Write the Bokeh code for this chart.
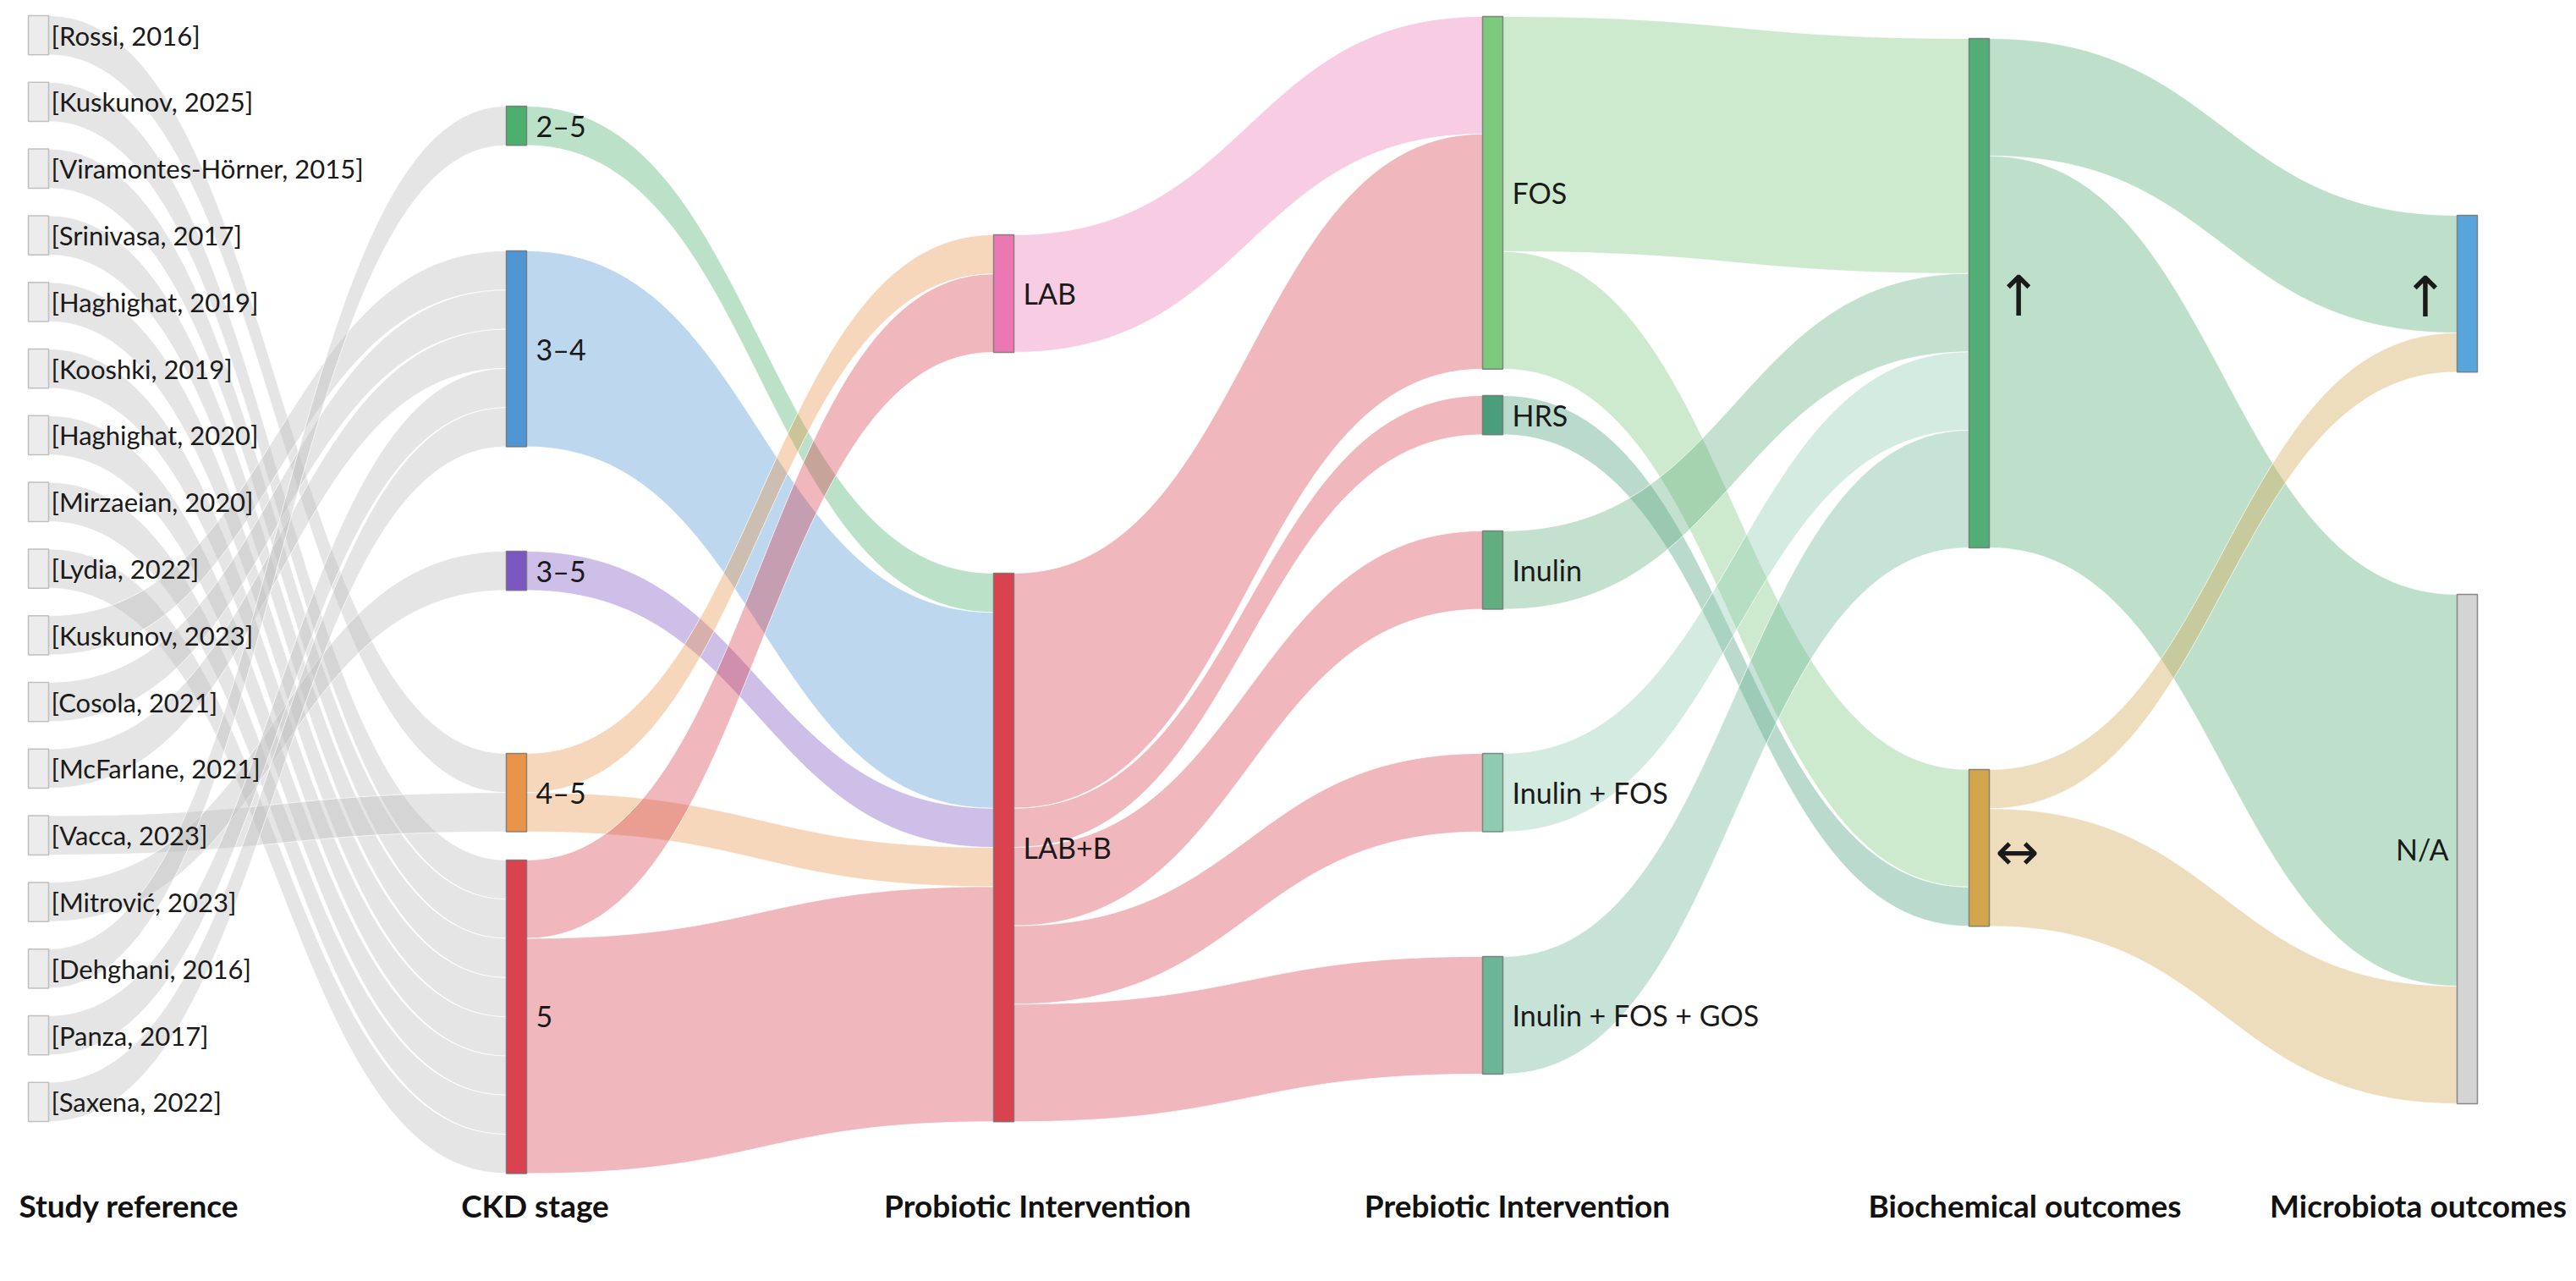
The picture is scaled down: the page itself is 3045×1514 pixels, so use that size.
import numpy as np
from bokeh.plotting import figure
from bokeh.models import Range1d, ColumnDataSource
from bokeh.core.properties import value
from bokeh.embed import file_html
from bokeh.resources import INLINE

# ---------------- DATA ----------------
studies = ["[Rossi, 2016]", "[Kuskunov, 2025]", "[Viramontes-Hörner, 2015]",
           "[Srinivasa, 2017]", "[Haghighat, 2019]", "[Kooshki, 2019]",
           "[Haghighat, 2020]", "[Mirzaeian, 2020]", "[Lydia, 2022]",
           "[Kuskunov, 2023]", "[Cosola, 2021]", "[McFarlane, 2021]",
           "[Vacca, 2023]", "[Mitrović, 2023]", "[Dehghani, 2016]",
           "[Panza,  2017]", "[Saxena, 2022]"]
study_stage = ["4–5", "5", "5", "5", "5", "5", "5", "5", "5",
               "3–4", "3–4", "3–4", "4–5", "3–5", "2–5", "3–4", "3–4"]

ckd_stages = ["2–5", "3–4", "3–5", "4–5", "5"]
probiotics = ["LAB", "LAB+B"]
prebiotics = ["FOS", "HRS", "Inulin", "Inulin + FOS", "Inulin + FOS + GOS"]
biochemical = ["↑", "↔"]
microbiota = ["↑", "N/A"]

stage_pro_src = ["2–5", "3–4", "3–5", "4–5", "4–5", "5", "5"]
stage_pro_tgt = ["LAB+B", "LAB+B", "LAB+B", "LAB", "LAB+B", "LAB", "LAB+B"]
stage_pro_val = [1, 5, 1, 1, 1, 2, 6]

pro_pre_src = ["LAB", "LAB+B", "LAB+B", "LAB+B", "LAB+B", "LAB+B"]
pro_pre_tgt = ["FOS", "FOS", "HRS", "Inulin", "Inulin + FOS", "Inulin + FOS + GOS"]
pro_pre_val = [3, 6, 1, 2, 2, 3]

pre_bio_src = ["FOS", "FOS", "HRS", "Inulin", "Inulin + FOS", "Inulin + FOS + GOS"]
pre_bio_tgt = ["↑", "↔", "↔", "↑", "↑", "↑"]
pre_bio_val = [6, 3, 1, 2, 2, 3]

bio_mic_src = ["↑", "↑", "↔", "↔"]
bio_mic_tgt = ["↑", "N/A", "↑", "N/A"]
bio_mic_val = [3, 10, 1, 3]

column_titles = ["Study reference", "CKD stage", "Probiotic Intervention",
                 "Prebiotic Intervention", "Biochemical outcomes", "Microbiota outcomes"]

# ---------------- LAYOUT / STYLE ----------------
U = 46.3                      # pixels per study
NODE_W = 24
COL_X = [33, 598, 1174, 1752, 2327, 2904]
STUDY_TOP0, STUDY_STEP = 18, 78.8
NODE_TOP = {
    1: {"2–5": 125, "3–4": 296, "3–5": 651, "4–5": 890, "5": 1016},
    2: {"LAB": 277, "LAB+B": 677},
    3: {"FOS": 19, "HRS": 467, "Inulin": 627, "Inulin + FOS": 890, "Inulin + FOS + GOS": 1130},
    4: {"↑": 45, "↔": 909},
    5: {"↑": 254, "N/A": 702},
}
TITLE_X = [152, 632, 1226, 1793, 2393, 2858]
TITLE_Y = 1424

COLORS = {
    1: {"2–5": "#4caf6e", "3–4": "#4f96d2", "3–5": "#7b57c2", "4–5": "#e8954b", "5": "#d8434f"},
    2: {"LAB": "#ec78b3", "LAB+B": "#d8434f"},
    3: {"FOS": "#7dc97e", "HRS": "#4a9e7c", "Inulin": "#63ae80",
        "Inulin + FOS": "#8fcbb0", "Inulin + FOS + GOS": "#6cb596"},
    4: {"↑": "#53ad77", "↔": "#d3a64e"},
    5: {"↑": "#57a5da", "N/A": "#d4d4d4"},
}
STUDY_FILL, STUDY_LINE = "#ececec", "#b3b3b3"
GRAY_LINK = "#bdbdbd"
FONT = "Lato"
ARROW_FONT = "DejaVu Sans"

for i, s in enumerate(studies):
    NODE_TOP.setdefault(0, {})[s] = STUDY_TOP0 + STUDY_STEP * i
    COLORS.setdefault(0, {})[s] = STUDY_FILL

# ---------------- LINKS ----------------
links = []
for s, st in zip(studies, study_stage):
    links.append((0, s, 1, st, 1))
for col, (S, T, V) in enumerate([(stage_pro_src, stage_pro_tgt, stage_pro_val),
                                 (pro_pre_src, pro_pre_tgt, pro_pre_val),
                                 (pre_bio_src, pre_bio_tgt, pre_bio_val),
                                 (bio_mic_src, bio_mic_tgt, bio_mic_val)], start=1):
    for s, t, v in zip(S, T, V):
        links.append((col, s, col + 1, t, v))

node_in, node_out = {}, {}
for cs, s, ct, t, v in links:
    node_out[(cs, s)] = node_out.get((cs, s), 0) + v
    node_in[(ct, t)] = node_in.get((ct, t), 0) + v
nodes = []
for col, d in NODE_TOP.items():
    for name, top in d.items():
        val = max(node_in.get((col, name), 0), node_out.get((col, name), 0))
        nodes.append((col, name, top, val))

out_sorted = sorted(range(len(links)), key=lambda i: (links[i][0], links[i][1], NODE_TOP[links[i][2]][links[i][3]]))
in_sorted = sorted(range(len(links)), key=lambda i: (links[i][2], links[i][3], NODE_TOP[links[i][0]][links[i][1]]))
y_src, y_tgt = {}, {}
acc = {}
for i in out_sorted:
    cs, s, ct, t, v = links[i]
    base = acc.get((cs, s), NODE_TOP[cs][s])
    y_src[i] = base
    acc[(cs, s)] = base + v * U
acc = {}
for i in in_sorted:
    cs, s, ct, t, v = links[i]
    base = acc.get((ct, t), NODE_TOP[ct][t])
    y_tgt[i] = base
    acc[(ct, t)] = base + v * U


def bez(x0, y0, x1, y1, n=60):
    t = np.linspace(0, 1, n)
    xm = (x0 + x1) / 2
    x = (1 - t) ** 3 * x0 + 3 * (1 - t) ** 2 * t * xm + 3 * (1 - t) * t ** 2 * xm + t ** 3 * x1
    y = (1 - t) ** 3 * y0 + 3 * (1 - t) ** 2 * t * y0 + 3 * (1 - t) * t ** 2 * y1 + t ** 3 * y1
    return x, y


xs, ys, fc, fa = [], [], [], []
for i, (cs, s, ct, t, v) in enumerate(links):
    x0 = COL_X[cs] + NODE_W
    x1 = COL_X[ct]
    w = v * U
    tx, ty = bez(x0, y_src[i], x1, y_tgt[i])
    bx, by = bez(x0, y_src[i] + w, x1, y_tgt[i] + w)
    xs.append(list(tx) + list(bx[::-1]))
    ys.append(list(ty) + list(by[::-1]))
    if cs == 0:
        fc.append(GRAY_LINK); fa.append(0.40)
    else:
        fc.append(COLORS[cs][s]); fa.append(0.38)

# ---------------- FIGURE ----------------
W, H = 3040, 1510
p = figure(width=W, height=H, x_range=Range1d(0, W), y_range=Range1d(H, 0),
           output_backend="svg", toolbar_location=None, x_axis_type=None, y_axis_type=None,
           min_border=0, background_fill_color="white", border_fill_color="white")
p.outline_line_color = None

p.patches(xs="xs", ys="ys", fill_color="fc", fill_alpha="fa",
          line_color="white", line_width=1, line_alpha=0.7,
          source=ColumnDataSource(dict(xs=xs, ys=ys, fc=fc, fa=fa)))

nl, nr, nt, nb, ncol, nline = [], [], [], [], [], []
lab = dict(x=[], y=[], t=[], a=[], s=[], f=[])
for col, name, top, val in nodes:
    h = val * U
    nl.append(COL_X[col]); nr.append(COL_X[col] + NODE_W)
    nt.append(top); nb.append(top + h)
    ncol.append(COLORS[col][name])
    nline.append(STUDY_LINE if col == 0 else "#6f6f6f")
    cy = top + h / 2
    is_arrow = name in ("↑", "↔")
    if col == 0:
        x, a, s = COL_X[col] + NODE_W + 3, "left", "31px"
    elif col == 5:
        x, a = COL_X[col] - 10, "right"
        s = "66px" if is_arrow else "34px"
    elif col == 4:
        x, a = COL_X[col] + NODE_W + 7, "left"
        s = "66px" if name == "↑" else "62px"
    else:
        x, a, s = COL_X[col] + NODE_W + 11, "left", "34px"
    lab["x"].append(x); lab["y"].append(cy + (4 if is_arrow else 0)); lab["t"].append(name)
    lab["a"].append(a); lab["s"].append(s)
    lab["f"].append(ARROW_FONT if is_arrow else FONT)

p.quad(left=nl, right=nr, top=nt, bottom=nb, fill_color=ncol, line_color=nline,
       line_width=1.5, line_alpha=0.8)

p.text(x="x", y="y", text="t", text_align="a", text_font_size="s", text_font="f",
       text_baseline="middle", text_color="#1a1a1a",
       source=ColumnDataSource(lab))

p.text(x=TITLE_X, y=[TITLE_Y] * len(TITLE_X), text=column_titles, text_align="center",
       text_baseline="middle", text_font_size="37px", text_font_style="bold",
       text_color="#111111", text_font=value(FONT))

open("out.html", "w").write(file_html(p, INLINE))
